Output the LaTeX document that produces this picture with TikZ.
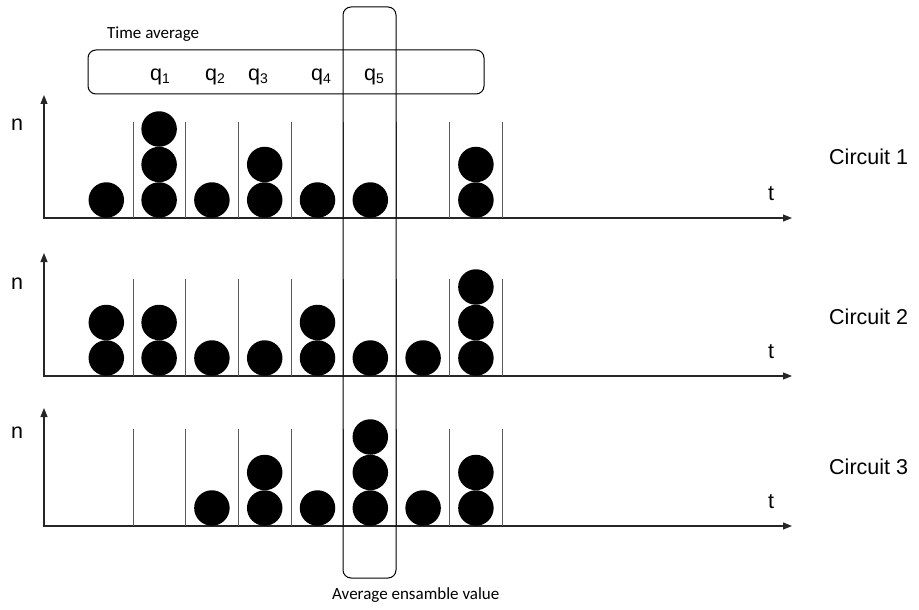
\documentclass[tikz,border=0pt]{standalone}
\usepackage{fontspec}
\setmainfont{Liberation Sans}
\newfontfamily\calib{Carlito}
\usetikzlibrary{arrows.meta}
\begin{document}
\begin{tikzpicture}[x=1pt,y=-1pt,
  ball/.style={circle,fill=black,inner sep=0pt,minimum size=35.5pt},
  axes/.style={line width=1.1pt,draw=black!85,{Triangle[length=9pt,width=7pt]}-{Triangle[length=9pt,width=7pt]}},
  sepline/.style={line width=1pt,draw=black!65},
  lab/.style={font=\fontsize{21.5}{25}\selectfont,inner sep=0pt},
  cal/.style={font=\calib\fontsize{17}{20}\selectfont,inner sep=0pt},
  frame/.style={draw,line width=1pt,rounded corners=8pt,inner sep=0pt}]
\useasboundingbox (0,0) rectangle (919,610);

\foreach \p/\ay/\yt/\st/\counts in {1/218/95/122/{1,3,1,2,1,1,0,2},
                                   2/376/253/279/{2,2,1,1,2,1,1,3},
                                   3/526/408/429/{0,0,1,2,1,3,1,2}} {
  \coordinate (o\p) at (44,\ay);
  \coordinate (yt\p) at (44,\yt);
  \coordinate (xe\p) at (792,\ay);
  \draw[axes] (yt\p) -- (o\p) -- (xe\p);
  \foreach \x [count=\i] in {133,185,238,291,343,396,449,502} {
    \coordinate (s\p-\i-t) at (\x,\st);
    \coordinate (s\p-\i-b) at (\x,\ay);
    \draw[sepline] (s\p-\i-t) -- (s\p-\i-b);
  }
  \foreach \c [count=\k] in \counts {
    \ifnum\c>0
      \foreach \j in {1,...,\c} {
        \node[ball] (b\p-\k-\j) at ({106.3+(\k-1)*52.8},{\ay-18-(\j-1)*35.5}) {};
      }
    \fi
  }
}

% panel labels
\node[lab] (n1) at (17,125) {n};
\node[lab] (n2) at (17,284) {n};
\node[lab] (n3) at (17,433) {n};
\node[lab] (t1) at (771,194) {t};
\node[lab] (t2) at (771,352) {t};
\node[lab] (t3) at (771,502) {t};
\node[lab,anchor=west] (c1) at (829,157) {Circuit 1};
\node[lab,anchor=west] (c2) at (829,317) {Circuit 2};
\node[lab,anchor=west] (c3) at (829,467) {Circuit 3};

% averaging frames
\node[frame,minimum width=396pt,minimum height=44pt] (tavg) at (286,72) {};
\node[frame,minimum width=53pt,minimum height=571pt] (ens) at (369.5,292.5) {};

\newcommand{\qsub}[1]{q\raisebox{-3pt}{\fontsize{14}{14}\selectfont #1}}
\node[lab,anchor=base] (q1) at (160,81) {\qsub{1}};
\node[lab,anchor=base] (q2) at (215,81) {\qsub{2}};
\node[lab,anchor=base] (q3) at (258,81) {\qsub{3}};
\node[lab,anchor=base] (q4) at (321,81) {\qsub{4}};
\node[lab,anchor=base] (q5) at (374,81) {\qsub{5}};

\node[cal,anchor=base west] (tlab) at (107,39) {Time average};
\node[cal,anchor=base west] (elab) at (332,599) {Average ensamble value};
\end{tikzpicture}
\end{document}
